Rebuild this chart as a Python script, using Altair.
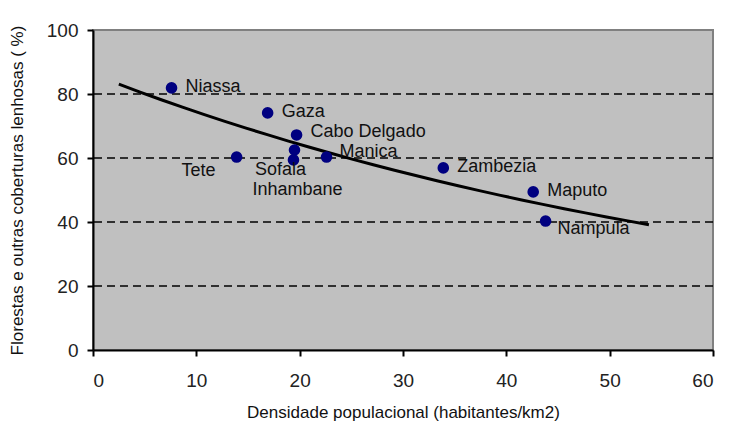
import altair as alt
import pandas as pd

provinces = ["Niassa", "Gaza", "Cabo Delgado", "Manica", "Tete", "Sofala",
             "Inhambane", "Zambezia", "Maputo", "Nampula"]
density = [7.6, 16.9, 19.7, 22.6, 13.9, 19.5, 19.4, 33.9, 42.6, 43.8]
forest = [81.9, 74.1, 67.2, 60.3, 60.3, 62.5, 59.4, 56.9, 49.4, 40.3]
grid_values = [20, 40, 60, 80]
x_ticks = [0, 10, 20, 30, 40, 50, 60]
y_ticks = [0, 20, 40, 60, 80, 100]

df = pd.DataFrame({"prov": provinces, "dens": density, "forest": forest})
grid_df = pd.DataFrame({"g": grid_values})

FONT = "Liberation Sans"
xs = alt.Scale(domain=[0, 60], nice=False, zero=False)
ys = alt.Scale(domain=[0, 100], nice=False, zero=False)

x_axis = alt.Axis(
    title="Densidade populacional (habitantes/km2)", values=x_ticks,
    grid=False, domainColor="black", domainWidth=2, tickColor="black", tickWidth=2,
    tickSize=6, labelFontSize=19, labelColor="#222", labelPadding=15,
    titleFontSize=17, titleFontWeight="normal", titleColor="#111", titlePadding=14,
    labelFont=FONT, titleFont=FONT)
y_axis = alt.Axis(
    title="Florestas e outras coberturas lenhosas  ( %)", values=y_ticks,
    grid=False, domainColor="black", domainWidth=2, tickColor="black", tickWidth=2,
    tickSize=6, labelFontSize=19, labelColor="#222", labelPadding=9,
    titleFontSize=17, titleFontWeight="normal", titleColor="#111", titlePadding=20,
    labelFont=FONT, titleFont=FONT)

x_enc = alt.X("dens:Q", scale=xs, axis=x_axis)
y_enc = alt.Y("forest:Q", scale=ys, axis=y_axis)

base = alt.Chart(df)

grid = alt.Chart(grid_df).mark_rule(color="black", strokeDash=[8, 5], strokeWidth=1.5).encode(
    y=alt.Y("g:Q", scale=ys, axis=y_axis))

trend = base.transform_regression("dens", "forest", method="exp", extent=[2.5, 53.8]).mark_line(
    color="black", strokeWidth=3).encode(x=x_enc, y=y_enc)

points = base.mark_circle(size=135, color="#000080", opacity=1).encode(x=x_enc, y=y_enc)

label_groups = [
    (["Niassa", "Gaza", "Zambezia", "Maputo"], "left", 14, -1),
    (["Cabo Delgado"], "left", 14, -3),
    (["Manica"], "left", 13, -5),
    (["Nampula"], "left", 12, 8),
    (["Tete"], "right", -21, 14),
    (["Sofala"], "center", -14, 20),
    (["Inhambane"], "center", 4, 30),
]
labels = []
for names, align, dx, dy in label_groups:
    labels.append(base.transform_filter(alt.FieldOneOfPredicate(field="prov", oneOf=names))
                  .mark_text(align=align, baseline="middle", dx=dx, dy=dy, font=FONT,
                             fontSize=18, color="#111")
                  .encode(x=alt.X("dens:Q", scale=xs), y=alt.Y("forest:Q", scale=ys), text="prov:N"))

chart = alt.layer(grid, trend, points, *labels).properties(
    width=620, height=320,
    autosize=alt.AutoSizeParams(type="none"),
    padding={"left": 85, "top": 22, "right": 5, "bottom": 72},
    background="white",
).configure_view(fill="#C0C0C0", stroke="#808080", strokeWidth=2)

chart.save("out.html", embed_options={"renderer": "svg", "actions": False})
